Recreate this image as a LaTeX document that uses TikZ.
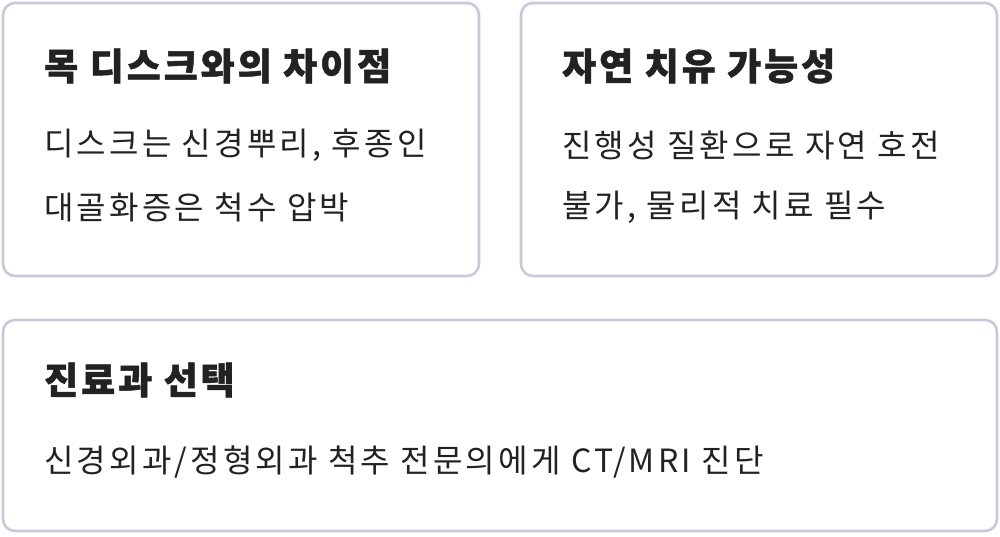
\documentclass[tikz,border=0pt]{standalone}
\usepackage{fontspec}
\setmainfont{Noto Sans CJK KR}[BoldFeatures={FakeBold=1.3}]
\newfontfamily\wide{Noto Sans CJK KR}[LetterSpace=10,BoldFeatures={FakeBold=1.3}]
\newfontfamily\widet{Noto Sans CJK KR}[LetterSpace=8,BoldFeatures={FakeBold=1.3}]
\definecolor{bd}{HTML}{C9C7DB}
\definecolor{tx}{HTML}{222222}
\tikzset{card/.style={draw=bd,line width=2.6pt,rounded corners=12pt,fill=white},
 ttl/.style={anchor=west,inner sep=0,text=tx,font=\widet\fontsize{37}{42}\selectfont\bfseries},
 bdy/.style={anchor=west,inner sep=0,text=tx,font=\wide\fontsize{32}{37}\selectfont}}
\begin{document}
\begin{tikzpicture}[x=1pt,y=1pt]
\useasboundingbox (0,0) rectangle (1000,-536);
\draw[card] (3,-3) rectangle (479,-276);
\draw[card] (521,-3) rectangle (997,-276);
\draw[card] (3,-320) rectangle (997,-531);
\node[ttl] (t1) at (44,-66) {목 디스크와의 차이점};
\node[bdy] (b1) at (44,-145) {디스크는 신경뿌리, 후종인};
\node[bdy] (b1b) at (44,-207) {대골화증은 척수 압박};
\node[ttl] (t2) at (562,-66) {자연 치유 가능성};
\node[bdy] (b2) at (562,-145) {진행성 질환으로 자연 호전};
\node[bdy] (b2b) at (562,-207) {불가, 물리적 치료 필수};
\node[ttl] (t3) at (44,-380) {진료과 선택};
\node[bdy] (b3) at (44,-462) {신경외과/정형외과 척추 전문의에게 CT/MRI 진단};
\end{tikzpicture}
\end{document}
